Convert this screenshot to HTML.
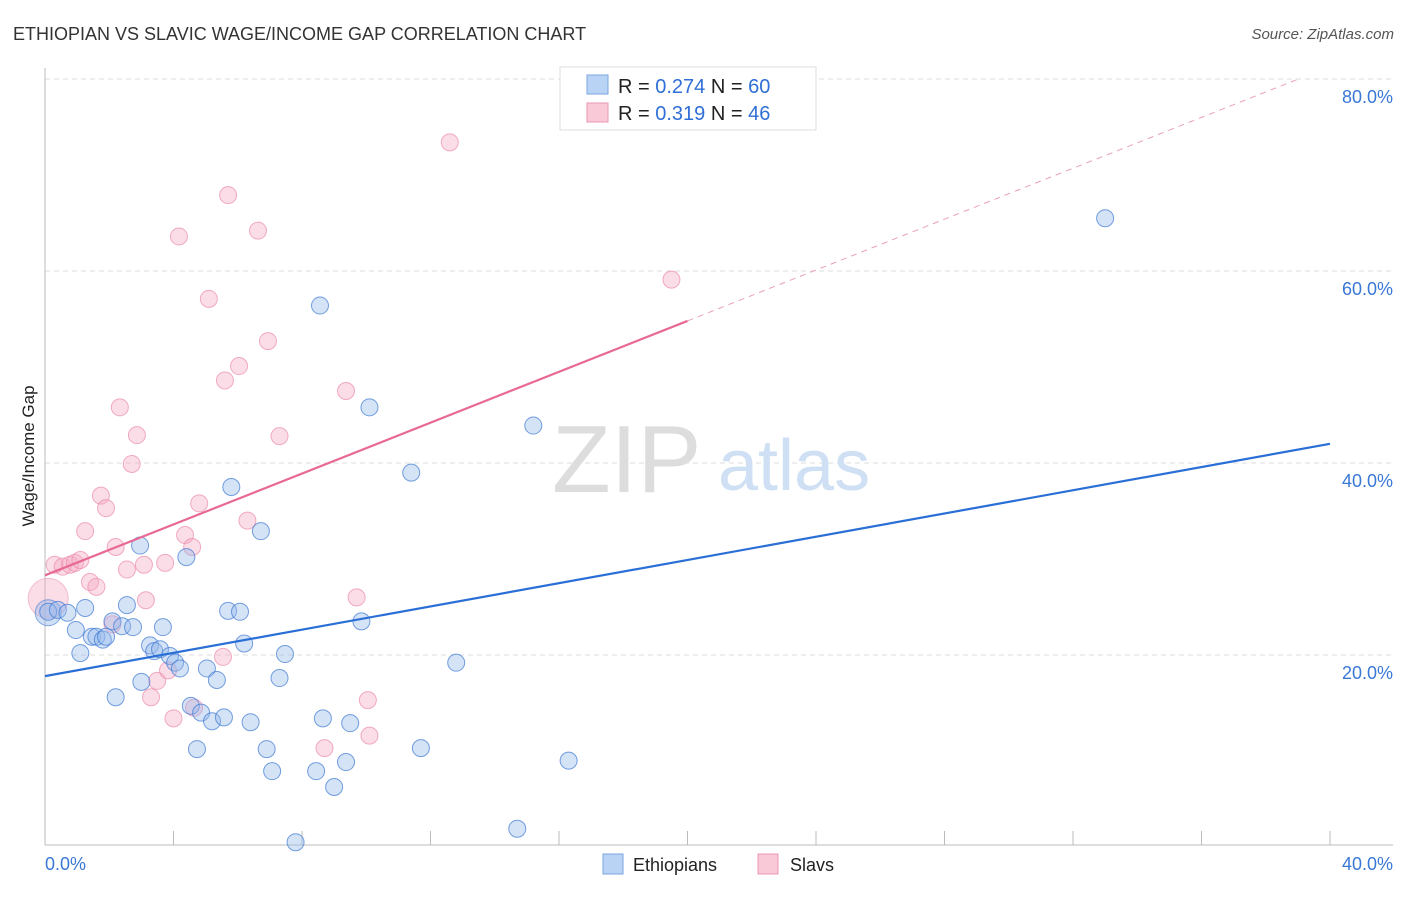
<!DOCTYPE html>
<html><head><meta charset="utf-8">
<style>
body{margin:0;background:#fff;font-family:"Liberation Sans",sans-serif;}
svg text{font-family:"Liberation Sans",sans-serif;}
</style></head>
<body>
<svg id="chart" width="1406" height="892" xmlns="http://www.w3.org/2000/svg">
<text x="13" y="40" font-size="18" fill="#333">ETHIOPIAN VS SLAVIC WAGE/INCOME GAP CORRELATION CHART</text>
<text x="1394" y="39" font-size="15" fill="#555" text-anchor="end" font-style="italic">Source: ZipAtlas.com</text>
<g id="grid"></g>
<g>
<text x="552" y="492" font-size="96" fill="#ddd" font-family="Liberation Serif, serif">ZIP</text>
<text x="718" y="490" font-size="72" fill="#cfe0f5">atlas</text>
</g>
<g id="axes"></g>
<g id="marks"></g>
<g id="lines"></g>
<text transform="translate(34,456) rotate(-90)" font-size="17" fill="#222" text-anchor="middle">Wage/Income Gap</text>
<g>
<rect x="560" y="67" width="256" height="63" fill="#fff" stroke="#ddd"/>
<rect x="587" y="75" width="21" height="19" fill="#b9d3f5" stroke="#7aa6e0"/>
<rect x="587" y="103" width="21" height="19" fill="#f9c9d7" stroke="#eb97b0"/>
<text x="618" y="93" font-size="20" fill="#222">R = <tspan fill="#2f6fd6">0.274</tspan>   N = <tspan fill="#2f6fd6">60</tspan></text>
<text x="618" y="120" font-size="20" fill="#222">R =  <tspan fill="#2f6fd6">0.319</tspan>   N = <tspan fill="#2f6fd6">46</tspan></text>
</g>
<g>
<rect x="603" y="854" width="20" height="20" fill="#b9d3f5" stroke="#7aa6e0"/>
<text x="633" y="871" font-size="18" fill="#222">Ethiopians</text>
<rect x="758" y="854" width="20" height="20" fill="#f9c9d7" stroke="#eb97b0"/>
<text x="790" y="871" font-size="18" fill="#222">Slavs</text>
</g>
</svg>
<script>
const xTickVals=[0,4,8,12,16,20,24,28,32,36,40];
const yTickVals=[20,40,60,80];
const blueX=[0.1,0.4,0.7,1.25,0.96,1.1,1.46,1.6,1.8,1.9,2.2,2.1,2.4,2.55,2.74,2.96,3.0,3.27,3.4,3.58,3.67,3.89,4.05,4.2,4.4,4.54,4.73,4.86,5.04,5.2,5.35,5.57,5.7,5.8,6.07,6.2,6.4,6.72,6.9,7.07,7.3,7.47,7.8,8.44,8.56,8.65,9.0,9.37,9.5,9.85,10.1,11.4,11.7,12.8,14.7,15.2,16.3,33.0];
const blueY=[24.5,24.7,24.4,24.9,22.6,20.2,21.9,21.9,21.6,21.9,15.6,23.5,23.0,25.2,22.9,31.4,17.2,21.0,20.4,20.6,22.9,19.9,19.2,18.6,30.2,14.7,10.2,14.0,18.6,13.1,17.4,13.5,24.6,37.5,24.5,21.2,13.0,32.9,10.2,7.9,17.6,20.1,0.5,7.9,56.4,13.4,6.25,8.85,12.9,23.5,45.8,39.0,10.3,19.2,1.9,43.9,9.0,65.5];
const pinkX=[0.3,0.55,0.78,0.93,1.1,1.25,1.4,1.6,1.74,1.9,2.1,2.2,2.33,2.55,2.7,2.86,3.08,3.14,3.3,3.49,3.74,3.83,4.0,4.17,4.36,4.58,4.64,4.8,5.1,5.54,5.6,5.7,6.04,6.3,6.63,6.94,7.3,8.7,9.37,9.7,10.05,10.1,12.6,19.5];
const pinkY=[29.4,29.2,29.4,29.6,29.9,32.9,27.6,27.1,36.6,35.3,23.2,31.25,45.8,28.9,39.9,42.9,29.4,25.7,15.6,17.3,29.6,18.4,13.4,63.6,32.5,31.25,14.5,35.8,57.1,19.8,48.6,67.9,50.1,34.0,64.2,52.7,42.8,10.3,47.5,26.0,15.3,11.6,73.4,59.1];
const blueTrend=[17.8,42.0];
const pinkTrend=[28.3,54.8];
const pinkSolidEnd=20, pinkDashEnd=39.1;

const NS="http://www.w3.org/2000/svg";
const X0=45,X1=1330,Y0=847;
function sx(v){return X0+(v/40)*(X1-X0);}
function sy(v){return Y0-v*9.6;}
function mk(tag,attrs,parent){const e=document.createElementNS(NS,tag);for(const k in attrs)e.setAttribute(k,attrs[k]);parent.appendChild(e);return e;}
const grid=document.getElementById('grid'),axes=document.getElementById('axes'),marks=document.getElementById('marks'),lines=document.getElementById('lines');
yTickVals.forEach(v=>{
  const l=mk('line',{x1:X0,x2:1393,y1:sy(v),y2:sy(v),stroke:'#ddd','stroke-dasharray':'5,4'},grid);
  
  
  const t=mk('text',{x:1393,y:sy(v)+24,'font-size':18,fill:'#3a78d6','text-anchor':'end'},axes);
  t.textContent=v.toFixed(1)+'%';
  
  
});
const ax=mk('line',{x1:X0,x2:X0,y1:68,y2:845,stroke:'#bbb'},axes);


const bx=mk('line',{x1:X0,x2:1393,y1:845,y2:845,stroke:'#bbb'},axes);


xTickVals.forEach(v=>{
  const t=mk('line',{x1:sx(v),x2:sx(v),y1:831,y2:845,stroke:'#bbb'},axes);
  
  
});
[[0,'start',X0],[40,'end',1393]].forEach(a=>{
  const t=mk('text',{x:a[2],y:870,'font-size':18,fill:'#3a78d6','text-anchor':a[1]},axes);
  t.textContent=a[0].toFixed(1)+'%';
  
  
});
// big points at origin
const bp=mk('circle',{cx:sx(0.1),cy:sy(25.9),r:20,fill:'rgba(246,170,194,0.4)',stroke:'rgba(235,140,170,0.5)'},marks);


const bb=mk('circle',{cx:sx(0.1),cy:sy(24.4),r:13,fill:'rgba(150,185,235,0.45)',stroke:'rgba(60,120,210,0.6)'},marks);


pinkX.forEach((x,i)=>{
  const c=mk('circle',{cx:sx(x),cy:sy(pinkY[i]),r:8.5,fill:'rgba(246,170,194,0.4)',stroke:'rgba(235,140,170,0.7)'},marks);
  
  
});
blueX.forEach((x,i)=>{
  const c=mk('circle',{cx:sx(x),cy:sy(blueY[i]),r:8.5,fill:'rgba(150,185,235,0.4)',stroke:'rgba(60,120,210,0.7)'},marks);
  
  
});
const slope=(pinkTrend[1]-pinkTrend[0])/20;
const bl=mk('line',{x1:sx(0),y1:sy(blueTrend[0]),x2:sx(40),y2:sy(blueTrend[1]),stroke:'#2a6fd6','stroke-width':2.2},lines);


const pl=mk('line',{x1:sx(0),y1:sy(pinkTrend[0]),x2:sx(pinkSolidEnd),y2:sy(pinkTrend[0]+slope*pinkSolidEnd),stroke:'#e86a94','stroke-width':2.2},lines);


const pd=mk('line',{x1:sx(pinkSolidEnd),y1:sy(pinkTrend[0]+slope*pinkSolidEnd),x2:sx(pinkDashEnd),y2:sy(pinkTrend[0]+slope*pinkDashEnd),stroke:'#eaa0b8','stroke-width':1,'stroke-dasharray':'6,5'},lines);


</script>
</body></html>
